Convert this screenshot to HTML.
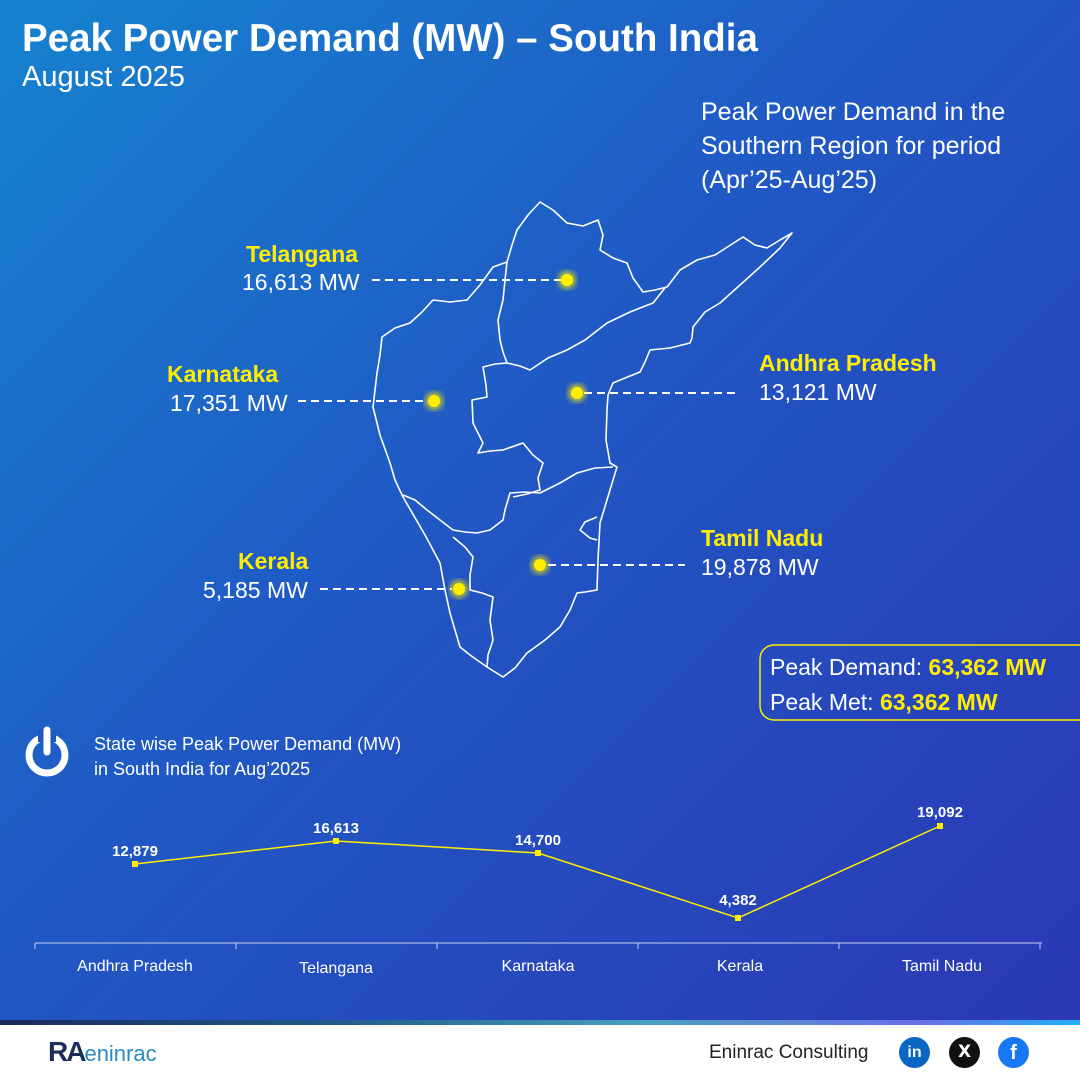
<!DOCTYPE html>
<html><head><meta charset="utf-8"><style>
body{margin:0;width:1080px;height:1080px;overflow:hidden;font-family:"Liberation Sans",sans-serif;}
.bg{position:absolute;left:0;top:0;width:1080px;height:1020px;background:linear-gradient(135deg,#1683cf 0%,#2058c4 45%,#2c38b4 100%);}
.t{position:absolute;color:#fff;white-space:nowrap;}
.y{color:#ffee00;font-weight:bold;}
</style></head><body>
<div class="bg"></div>
<div class="t" style="left:22px;top:17px;font-size:38.5px;font-weight:bold;">Peak Power Demand (MW) – South India</div>
<div class="t" style="left:22px;top:61px;font-size:29px;">August 2025</div>
<div class="t" style="left:701px;top:95px;font-size:25px;line-height:34px;">Peak Power Demand in the<br>Southern Region for period<br>(Apr’25-Aug’25)</div>

<svg style="position:absolute;left:0;top:0" width="1080" height="1020">
<defs><filter id="g"><feGaussianBlur stdDeviation="3"/></filter></defs>
<g fill="none" stroke="#fff" stroke-width="1.6" stroke-linejoin="round">
<path d="M540,202 L553,210 567,223 583,226 598,220 603,235 600,250 613,258 627,263 633,278 643,292 655,290 667,287 680,270 697,260 715,255 743,237 755,245 767,248 780,240 792,233 780,248 760,267 740,285 720,303 705,312 693,327 692,338 690,343 670,348 650,350 645,362 640,372 625,378 613,383 608,395 607,410 606,440 610,463 617,467 610,490 600,523 598,560 597,590 585,592 577,593 570,610 560,627 545,640 527,653 515,668 503,677 495,672 487,667 470,655 460,647 455,630 450,613 445,590 440,563 425,535 403,497 395,480 390,463 380,435 373,407 375,390 377,373 380,355 382,337 395,328 410,323 422,312 433,300 450,302 467,300 480,285 493,267 507,262 512,245 517,230 528,215 Z"/>
<path d="M507,262 L505,280 503,300 498,320 500,340 503,352 507,363 L520,366 530,370 548,358 567,350 585,340 607,323 630,312 653,303 665,288"/>
<path d="M507,363 L495,364 483,367 486,385 487,397 472,400 473,423 483,443 478,453 490,451 503,450 523,443 533,455 543,463 538,478 540,490 527,494 513,497"/>
<path d="M613,467 L595,468 577,473 560,483 540,493 525,492 510,493 505,510 503,520 490,530 477,533 465,532 453,530 440,520 427,510 415,500 403,495"/>
<path d="M453,537 L465,547 473,557 470,575 470,590 482,593 493,597 490,620 493,640 488,655 487,667"/>
<path d="M597,517 L585,522 580,530 590,538 597,540"/>
</g>
<g stroke="#fff" stroke-width="2" stroke-dasharray="8,5">
<line x1="372" y1="280" x2="562" y2="280"/>
<line x1="298" y1="401" x2="428" y2="401"/>
<line x1="584" y1="393" x2="740" y2="393"/>
<line x1="548" y1="565" x2="685" y2="565"/>
<line x1="320" y1="589" x2="452" y2="589"/>
</g>
<g fill="#ffee00">
<circle cx="567" cy="280" r="9" filter="url(#g)" opacity=".7"/><circle cx="567" cy="280" r="6"/>
<circle cx="434" cy="401" r="9" filter="url(#g)" opacity=".7"/><circle cx="434" cy="401" r="6"/>
<circle cx="577" cy="393" r="9" filter="url(#g)" opacity=".7"/><circle cx="577" cy="393" r="6"/>
<circle cx="540" cy="565" r="9" filter="url(#g)" opacity=".7"/><circle cx="540" cy="565" r="6"/>
<circle cx="459" cy="589" r="9" filter="url(#g)" opacity=".7"/><circle cx="459" cy="589" r="6"/>
</g>
<rect x="760" y="645" width="340" height="75" rx="14" fill="none" stroke="#ffee00" stroke-width="1.5"/>
<circle cx="47" cy="755" r="18" fill="none" stroke="#fff" stroke-width="7"/>
<rect x="38" y="730" width="18" height="12" fill="#1f57c3"/>
<line x1="47" y1="730" x2="47" y2="752" stroke="#fff" stroke-width="7" stroke-linecap="round"/>
<line x1="35" y1="943" x2="1042" y2="943" stroke="#c8d0f0" stroke-width="1"/>
<g stroke="#c8d0f0"><line x1="35" y1="943" x2="35" y2="949"/><line x1="236" y1="943" x2="236" y2="949"/><line x1="437" y1="943" x2="437" y2="949"/><line x1="638" y1="943" x2="638" y2="949"/><line x1="839" y1="943" x2="839" y2="949"/><line x1="1040" y1="943" x2="1040" y2="949"/></g>
<polyline points="135,864 336,841 538,853 738,918 940,826" fill="none" stroke="#ffee00" stroke-width="1.5"/>
<g fill="#ffee00"><rect x="132" y="861" width="6" height="6"/><rect x="333" y="838" width="6" height="6"/><rect x="535" y="850" width="6" height="6"/><rect x="735" y="915" width="6" height="6"/><rect x="937" y="823" width="6" height="6"/></g>
<g fill="#fff" font-size="15" font-weight="bold" text-anchor="middle" font-family="Liberation Sans">
<text x="135" y="856">12,879</text><text x="336" y="833">16,613</text><text x="538" y="845">14,700</text><text x="738" y="905">4,382</text><text x="940" y="817">19,092</text>
</g>
<g fill="#fff" font-size="16" text-anchor="middle" font-family="Liberation Sans">
<text x="135" y="971">Andhra Pradesh</text><text x="336" y="973">Telangana</text><text x="538" y="971">Karnataka</text><text x="740" y="971">Kerala</text><text x="942" y="971">Tamil Nadu</text>
</g>
</svg>

<div class="t y" style="left:246px;top:241px;font-size:23px;">Telangana</div>
<div class="t" style="left:242px;top:269px;font-size:23px;">16,613 MW</div>
<div class="t y" style="left:167px;top:361px;font-size:23px;">Karnataka</div>
<div class="t" style="left:170px;top:390px;font-size:23px;">17,351 MW</div>
<div class="t y" style="left:759px;top:350px;font-size:23px;">Andhra Pradesh</div>
<div class="t" style="left:759px;top:379px;font-size:23px;">13,121 MW</div>
<div class="t y" style="left:701px;top:525px;font-size:23px;">Tamil Nadu</div>
<div class="t" style="left:701px;top:554px;font-size:23px;">19,878 MW</div>
<div class="t y" style="left:238px;top:548px;font-size:23px;">Kerala</div>
<div class="t" style="left:203px;top:577px;font-size:23px;">5,185 MW</div>
<div class="t" style="left:770px;top:654px;font-size:23px;">Peak Demand: <span class="y">63,362 MW</span></div>
<div class="t" style="left:770px;top:689px;font-size:23px;">Peak Met: <span class="y">63,362 MW</span></div>
<div class="t" style="left:94px;top:732px;font-size:18px;line-height:25px;">State wise Peak Power Demand (MW)<br>in South India for Aug’2025</div>

<div style="position:absolute;left:0;top:1020px;width:1080px;height:5px;background:linear-gradient(90deg,#1a2a5a,#1f5a8a 30%,#4aa0c0 60%,#6a70e8 85%,#20b0f0);"></div>
<div style="position:absolute;left:0;top:1025px;width:1080px;height:55px;background:#fff;"></div>
<div class="t" style="left:48px;top:1036px;font-size:28px;font-weight:bold;color:#1c2f5a;letter-spacing:-2px;">RA<span style="color:#2a8ac0;font-weight:normal;font-size:22px;letter-spacing:0">eninrac</span></div>
<div class="t" style="left:709px;top:1042px;font-size:19px;color:#222;">Eninrac Consulting</div>
<div style="position:absolute;left:899px;top:1037px;width:31px;height:31px;border-radius:50%;background:#0a66c2;color:#fff;font:bold 16px 'Liberation Sans';text-align:center;line-height:31px;">in</div>
<div style="position:absolute;left:949px;top:1037px;width:31px;height:31px;border-radius:50%;background:#111;color:#fff;font:bold 17px 'DejaVu Sans';text-align:center;line-height:31px;">X</div>
<div style="position:absolute;left:998px;top:1037px;width:31px;height:31px;border-radius:50%;background:#1877f2;color:#fff;font:bold 20px 'Liberation Sans';text-align:center;line-height:33px;">f</div>
</body></html>
